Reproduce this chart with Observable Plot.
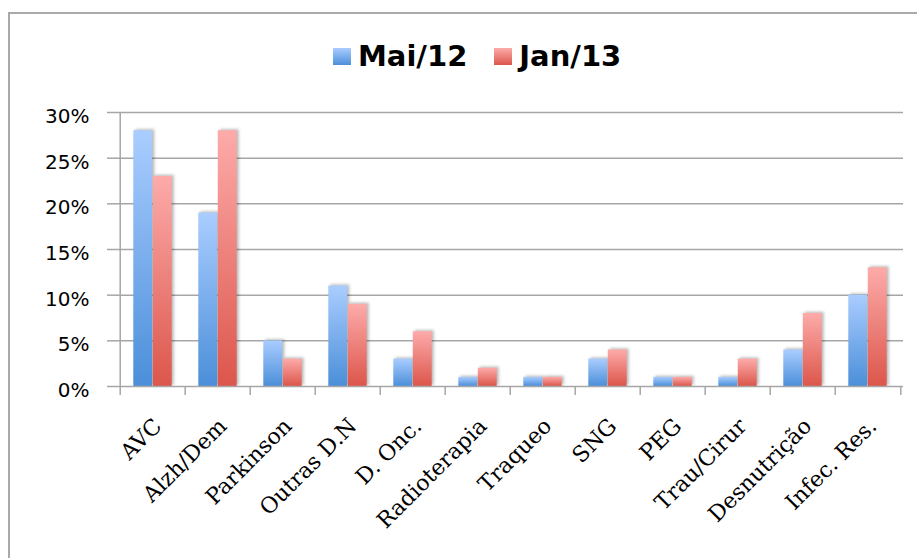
<!DOCTYPE html>
<html>
<head>
<meta charset="utf-8">
<script src="https://cdn.jsdelivr.net/npm/d3@7"></script>
<script src="https://cdn.jsdelivr.net/npm/@observablehq/plot@0.6"></script>
<style>
  html, body { margin: 0; padding: 0; background: #fff; overflow: hidden; }
  #fig { position: relative; width: 917px; height: 558px; }
  #border { position: absolute; left: 8px; top: 12px; width: 1000px; height: 700px;
            border: 2px solid #a9a9a9; box-sizing: border-box; }
  #legend { position: absolute; left: 333px; top: 42px; height: 29px; display: flex;
            align-items: center; font: bold 29px "DejaVu Sans", sans-serif; line-height: 29px; color: #000; }
  #legend .item { display: flex; align-items: center; margin-right: 27px; }
  #legend .sw { width: 18px; height: 17px; margin-right: 7px; }
  #chart { position: absolute; left: 0; top: 90px; }
</style>
</head>
<body>
<div id="fig">
  <div id="border"></div>
  <div id="legend"></div>
  <div id="chart"></div>
</div>
<script>
// Share of cases per category, in percent
const categories = ["AVC", "Alzh/Dem", "Parkinson", "Outras D.N", "D. Onc.", "Radioterapia",
                    "Traqueo", "SNG", "PEG", "Trau/Cirur", "Desnutrição", "Infec. Res."];
const mai12 = [28, 19, 5, 11, 3, 1, 1, 3, 1, 1, 4, 10];
const jan13 = [23, 28, 3, 9, 6, 2, 1, 4, 1, 3, 8, 13];
const seriesNames = ["Mai/12", "Jan/13"];
const yTicks = [0, 5, 10, 15, 20, 25, 30];

const seriesColors = {
  "Mai/12": {top: "#aacdff", bottom: "#4b8fd9"},
  "Jan/13": {top: "#fdabaa", bottom: "#dc564b"}
};
const gradId = {"Mai/12": "grad-mai", "Jan/13": "grad-jan"};

// Legend
const legend = d3.select("#legend");
for (const name of seriesNames) {
  const item = legend.append("div").attr("class", "item");
  item.append("div").attr("class", "sw")
    .style("background", `linear-gradient(${seriesColors[name].top}, ${seriesColors[name].bottom})`);
  item.append("span").text(name);
}

const width = 917, height = 468;
const marginLeft = 116, marginRight = 14, marginTop = 22, marginBottom = 172;
const bw = (width - marginLeft - marginRight) / categories.length;
const barW = bw * 0.297;
const side = (bw - 2 * barW) / 2;
const gray = "#a6a6a6";

const rows = (values) => categories.map((c, i) => ({cat: c, v: values[i]}));

// Vertical gradient defs for the bars
const defs = () => {
  const d = d3.create("svg:defs");
  for (const name of seriesNames) {
    const g = d.append("linearGradient").attr("id", gradId[name])
      .attr("x1", 0).attr("y1", 0).attr("x2", 0).attr("y2", 1);
    g.append("stop").attr("offset", "0%").attr("stop-color", seriesColors[name].top);
    g.append("stop").attr("offset", "100%").attr("stop-color", seriesColors[name].bottom);
  }
  return d.node();
};

const shadow = "drop-shadow(2px -1px 1.5px rgba(0,0,0,0.28))";

const chart = Plot.plot({
  width, height, marginLeft, marginRight, marginTop, marginBottom,
  style: {background: "transparent", overflow: "visible"},
  x: {domain: categories, padding: 0, axis: null, label: null},
  y: {domain: [0, 30], axis: null, label: null},
  marks: [
    defs,
    Plot.gridY(yTicks.slice(1), {stroke: gray, strokeOpacity: 1, strokeWidth: 1.5}),
    // y tick marks and labels
    Plot.axisY(yTicks, {tickSize: 9, tickFormat: () => "", label: null, stroke: gray, strokeWidth: 1.5, strokeOpacity: 1}),
    Plot.axisY(yTicks, {tickSize: 0, tickPadding: 27, dy: 4, tickFormat: d => d + "%", label: null,
      fontSize: 20, fontFamily: "DejaVu Sans", fill: "#000"}),
    // bars
    Plot.barY(rows(mai12), {x: "cat", y: "v", fill: `url(#${gradId["Mai/12"]})`,
      insetLeft: side, insetRight: side + barW, imageFilter: shadow}),
    Plot.barY(rows(jan13), {x: "cat", y: "v", fill: `url(#${gradId["Jan/13"]})`,
      insetLeft: side + barW, insetRight: side, imageFilter: shadow}),
    // axis lines
    Plot.ruleY([0], {stroke: gray, strokeWidth: 1.5}),
    Plot.ruleX([categories[0]], {x: d => d, y1: 0, y2: 30, dx: -bw / 2, stroke: gray, strokeWidth: 1.5}),
    // x tick marks at category boundaries
    Plot.axisX(categories, {tickSize: 9, tickFormat: () => "", label: null, dx: -bw / 2, stroke: gray, strokeWidth: 1.5, strokeOpacity: 1}),
    Plot.axisX([categories[categories.length - 1]], {tickSize: 9, tickFormat: () => "", label: null, dx: bw / 2, stroke: gray, strokeWidth: 1.5, strokeOpacity: 1}),
    // rotated category labels
    Plot.axisX(categories, {tickSize: 0, tickPadding: 36, dx: 5, tickRotate: -45, label: null,
      fontSize: 22, fontFamily: "DejaVu Serif", fill: "#000"})
  ]
});
document.getElementById("chart").appendChild(chart);
</script>
</body>
</html>
